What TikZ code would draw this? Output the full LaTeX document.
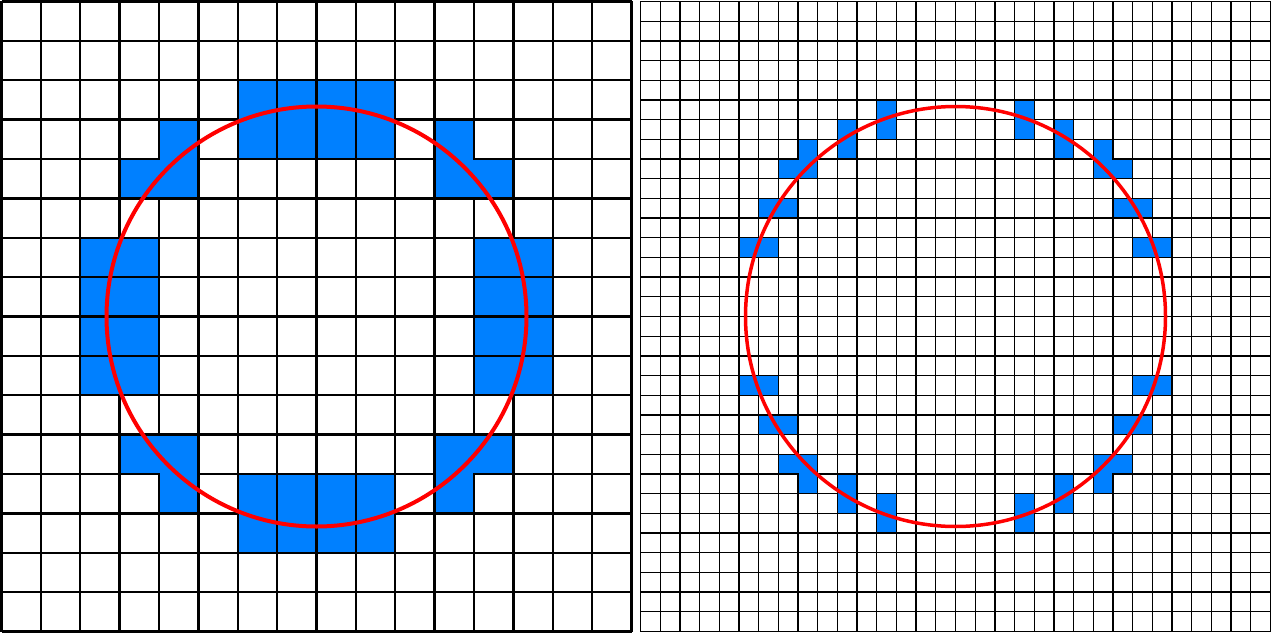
\documentclass[tikz,border=0pt]{standalone}
\usepackage{tikz}
\definecolor{cellblue}{RGB}{0,128,255}
\definecolor{circred}{RGB}{255,0,0}
\tikzset{
  gridthick/.style={line width=2.3pt, black},
  gridthin/.style={line width=1.3pt, black},
  bluepieceL/.style={fill=cellblue, draw=black, line width=2.3pt},
  bluepieceR/.style={fill=cellblue, draw=black, line width=1.3pt},
  redcircL/.style={draw=circred, line width=4pt},
  redcircR/.style={draw=circred, line width=3.5pt},
}
\newcommand{\leftquad}{%
  \filldraw[bluepieceL] (6,2) rectangle (7,4);
  \filldraw[bluepieceL] (7,2) rectangle (8,4);
  \filldraw[bluepieceL] (2,6) rectangle (4,7);
  \filldraw[bluepieceL] (2,7) rectangle (4,8);
  \filldraw[bluepieceL] (4,3) -- (5,3) -- (5,5) -- (3,5) -- (3,4) -- (4,4) -- cycle;
}
\newcommand{\rightquad}{%
  \filldraw[bluepieceR] (12,5) rectangle (13,7);
  \filldraw[bluepieceR] (10,6) rectangle (11,8);
  \filldraw[bluepieceR] (8,7) -- (9,7) -- (9,9) -- (7,9) -- (7,8) -- (8,8) -- cycle;
  \filldraw[bluepieceR] (6,10) rectangle (8,11);
  \filldraw[bluepieceR] (5,12) rectangle (7,13);
}
\begin{document}
\begin{tikzpicture}[x=1pt,y=-1pt]
\useasboundingbox[fill=white] (0,0) rectangle (1279,634);
% ---------- left grid 16x16 ----------
\begin{scope}[shift={(1.5,1.5)}, x=39.375pt, y=-39.375pt]
  \foreach \k in {0,...,16} {
    \draw[gridthick] (\k,0) -- (\k,16);
    \draw[gridthick] (0,\k) -- (16,\k);
  }
  \leftquad
  \begin{scope}[shift={(16,0)}, xscale=-1] \leftquad \end{scope}
  \begin{scope}[shift={(0,16)}, yscale=-1] \leftquad \end{scope}
  \begin{scope}[shift={(16,16)}, xscale=-1, yscale=-1] \leftquad \end{scope}
  \coordinate (cL) at (8,8);
  \draw[redcircL] (cL) circle[radius=210pt];
\end{scope}
% ---------- right grid 32x32 ----------
\begin{scope}[shift={(640.5,1.5)}, x=19.6875pt, y=-19.6875pt]
  \foreach \k in {0,...,32} {
    \draw[gridthin] (\k,0) -- (\k,32);
    \draw[gridthin] (0,\k) -- (32,\k);
  }
  \rightquad
  \begin{scope}[shift={(32,0)}, xscale=-1] \rightquad \end{scope}
  \begin{scope}[shift={(0,32)}, yscale=-1] \rightquad \end{scope}
  \begin{scope}[shift={(32,32)}, xscale=-1, yscale=-1] \rightquad \end{scope}
  \coordinate (cR) at (16,16);
  \draw[redcircR] (cR) circle[radius=210pt];
\end{scope}
\end{tikzpicture}
\end{document}
